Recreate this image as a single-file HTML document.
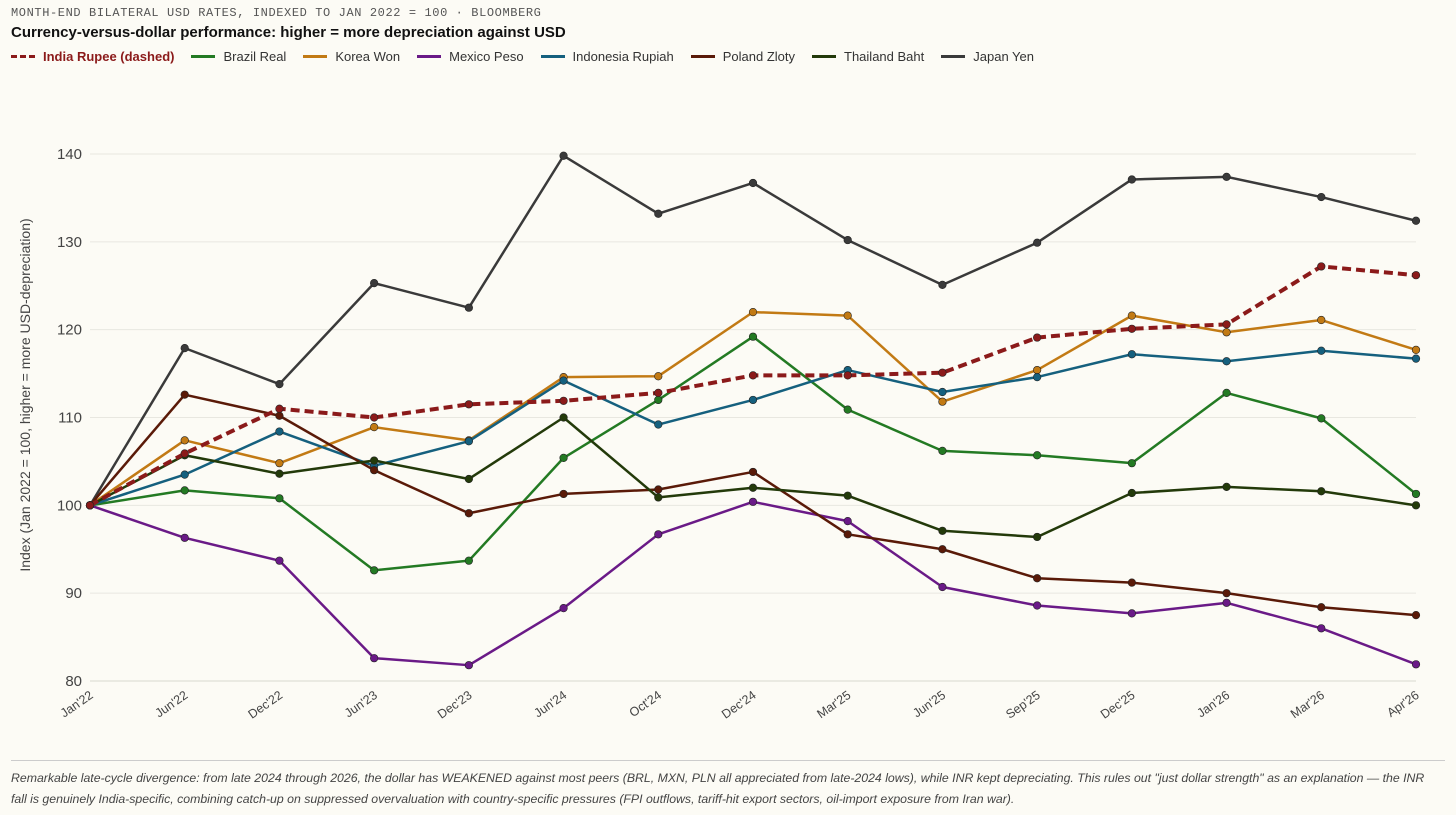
<!DOCTYPE html>
<html><head><meta charset="utf-8"><style>
body{margin:0;background:#fcfbf5;font-family:"Liberation Sans",sans-serif;width:1456px;height:815px;overflow:hidden;position:relative}
.kick{position:absolute;left:11px;top:6px;font-family:"Liberation Mono",monospace;font-size:12px;letter-spacing:0.6px;color:#555}
.title{position:absolute;left:11px;top:24px;font-size:15px;font-weight:bold;color:#111}
.legend{position:absolute;left:11px;top:49px;font-size:13px;color:#333;display:flex;gap:0}
.li{display:flex;align-items:center;margin-right:17px}
.sw{width:24px;height:0;border-top:3px solid;margin-right:8px}
.note{position:absolute;left:11px;top:768px;width:1430px;font-size:12.3px;font-style:italic;color:#444;line-height:21px}
.rule{position:absolute;left:11px;right:11px;top:760px;border-top:1px solid #ccc}
</style></head><body>
<div class="kick">MONTH-END BILATERAL USD RATES, INDEXED TO JAN 2022 = 100 · BLOOMBERG</div>
<div class="title">Currency-versus-dollar performance: higher = more depreciation against USD</div>
<div class="legend" id="legend"></div>
<svg id="chart" width="1456" height="815" style="position:absolute;left:0;top:0"></svg>
<div class="rule"></div>
<div class="note">Remarkable late-cycle divergence: from late 2024 through 2026, the dollar has WEAKENED against most peers (BRL, MXN, PLN all appreciated from late-2024 lows), while INR kept depreciating. This rules out "just dollar strength" as an explanation — the INR fall is genuinely India-specific, combining catch-up on suppressed overvaluation with country-specific pressures (FPI outflows, tariff-hit export sectors, oil-import exposure from Iran war).</div>
<script>
const categories=["Jan'22","Jun'22","Dec'22","Jun'23","Dec'23","Jun'24","Oct'24","Dec'24","Mar'25","Jun'25","Sep'25","Dec'25","Jan'26","Mar'26","Apr'26"];
const yTicks=[80,90,100,110,120,130,140];
const seriesNames=["India Rupee (dashed)","Brazil Real","Korea Won","Mexico Peso","Indonesia Rupiah","Poland Zloty","Thailand Baht","Japan Yen"];
const seriesColors=["#8b1a1a","#237a23","#c27a14","#6a1a87","#15607e","#5a1a08","#233a0a","#3a3a3a"];
const india=[100,105.9,111.0,110.0,111.5,111.9,112.8,114.8,114.8,115.1,119.1,120.1,120.6,127.2,126.2];
const brazil=[100,101.7,100.8,92.6,93.7,105.4,112.0,119.2,110.9,106.2,105.7,104.8,112.8,109.9,101.3];
const korea=[100,107.4,104.8,108.9,107.4,114.6,114.7,122.0,121.6,111.8,115.4,121.6,119.7,121.1,117.7];
const mexico=[100,96.3,93.7,82.6,81.8,88.3,96.7,100.4,98.2,90.7,88.6,87.7,88.9,86.0,81.9];
const indonesia=[100,103.5,108.4,104.5,107.3,114.2,109.2,112.0,115.4,112.9,114.6,117.2,116.4,117.6,116.7];
const poland=[100,112.6,110.2,104.0,99.1,101.3,101.8,103.8,96.7,95.0,91.7,91.2,90.0,88.4,87.5];
const thailand=[100,105.7,103.6,105.1,103.0,110.0,100.9,102.0,101.1,97.1,96.4,101.4,102.1,101.6,100.0];
const japan=[100,117.9,113.8,125.3,122.5,139.8,133.2,136.7,130.2,125.1,129.9,137.1,137.4,135.1,132.4];
const allSeries=[india,brazil,korea,mexico,indonesia,poland,thailand,japan];
const NS="http://www.w3.org/2000/svg";
const svg=document.getElementById('chart');
const x0=90,x1=1416,yMin=80,yMax=140,py0=681,py1=154;
const X=i=>x0+i*(x1-x0)/(categories.length-1);
const Y=v=>py0-(v-yMin)*(py0-py1)/(yMax-yMin);
function mk(t,a){const e=document.createElementNS(NS,t);for(const k in a)e.setAttribute(k,a[k]);svg.appendChild(e);return e;}
yTicks.forEach(t=>{
 const g=mk('line',{x1:x0,x2:x1,y1:Y(t),y2:Y(t),stroke:t===80?'#d8d8d0':'#e8e7e0','stroke-width':1});
 
 
 const l=mk('text',{x:82,y:Y(t)+5,'text-anchor':'end','font-size':15,fill:'#444','font-family':'Liberation Sans'});
 l.textContent=t;
 
 
});
categories.forEach((c,i)=>{
 const l=mk('text',{x:X(i)+4,y:697,'text-anchor':'end','font-size':12.5,fill:'#444','font-family':'Liberation Sans',transform:`rotate(-35 ${X(i)+4} 697)`});
 l.textContent=c;
 
 
});
const yt=mk('text',{x:30,y:395,'text-anchor':'middle','font-size':14,fill:'#444','font-family':'Liberation Sans',transform:'rotate(-90 30 395)'});
yt.textContent='Index (Jan 2022 = 100, higher = more USD-depreciation)';


const order=[7,1,2,3,4,5,6,0];
order.forEach(s=>{
 const d=allSeries[s].map((v,i)=>(i?'L':'M')+X(i)+','+Y(v)).join(' ');
 const p=mk('path',{d:d,fill:'none',stroke:seriesColors[s],'stroke-width':s===0?4:2.5,'stroke-dasharray':s===0?'9,5':'none','stroke-linejoin':'round'});
 
 
 allSeries[s].forEach((v,i)=>{
  const c=mk('circle',{cx:X(i),cy:Y(v),r:3.8,fill:seriesColors[s],stroke:'#222','stroke-width':0.6});
  
  
 });
});
const lg=document.getElementById('legend');
seriesNames.forEach((n,s)=>{
 const d=document.createElement('div');d.className='li';
 
 
 d.innerHTML=`<span class="sw" style="border-top:${s===0?'3px dashed':'3px solid'} ${seriesColors[s]}"></span><span style="${s===0?'color:#8b1a1a;font-weight:bold':''}">${n}</span>`;
 lg.appendChild(d);
});
</script>
</body></html>
